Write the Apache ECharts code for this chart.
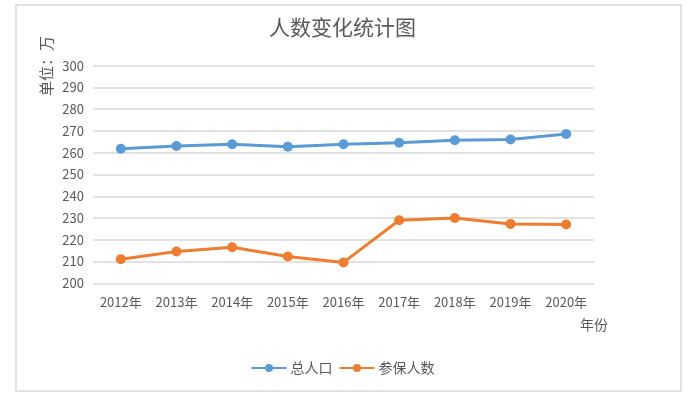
<!DOCTYPE html>
<html>
<head>
<meta charset="utf-8">
<script src="https://cdn.jsdelivr.net/npm/echarts@6/dist/echarts.min.js"></script>
<style>html,body{margin:0;padding:0;background:#fff}#c{width:685px;height:395px}</style>
</head>
<body>
<div id="c"></div>
<script>
const categories = ['2012年','2013年','2014年','2015年','2016年','2017年','2018年','2019年','2020年'];
const totalPop = [261.8, 263.1, 263.9, 262.8, 263.9, 264.6, 265.7, 266.1, 268.6];
const insured = [211.1, 214.6, 216.6, 212.3, 209.6, 229.0, 230.0, 227.3, 227.0];
const seriesNames = ['总人口', '参保人数'];
const titleText = '人数变化统计图';
const unitText = '单位：万';
const xName = '年份';

const FONT = '"Noto Sans CJK SC", "Noto Sans", sans-serif';
const chart = echarts.init(document.getElementById('c'), null, {renderer: 'canvas'});
chart.setOption({
  animation: false,
  backgroundColor: '#fff',
  textStyle: {fontFamily: FONT},
  title: {
    text: titleText, left: 'center', top: 12,
    textStyle: {color: '#595959', fontSize: 21, fontWeight: 'normal', fontFamily: FONT}
  },
  graphic: [
    {type: 'rect', shape: {x: 16, y: 5, width: 665, height: 386},
     style: {fill: 'none', stroke: '#d9d9d9', lineWidth: 1.5}, z: -1},
    {type: 'text', x: 46, y: 66, rotation: Math.PI / 2,
     style: {text: unitText, fill: '#595959', font: '15px ' + FONT, align: 'center', verticalAlign: 'middle'}}
  ],
  legend: {
    bottom: 15, left: 'center', itemWidth: 35, itemHeight: 10, itemGap: 6,
    data: seriesNames,
    textStyle: {color: '#595959', fontSize: 14, fontFamily: FONT, padding: [0, 0, 0, -1]}
  },
  grid: {left: 93, right: 91, top: 65.7, bottom: 111.7, containLabel: false},
  xAxis: {
    type: 'category', data: categories, boundaryGap: true,
    name: xName, nameLocation: 'end', nameGap: 0,
    nameTextStyle: {color: '#595959', fontSize: 14, fontFamily: FONT, align: 'center', verticalAlign: 'top', padding: [34, 0, 0, 0]},
    axisLine: {show: false}, axisTick: {show: false},
    axisLabel: {color: '#595959', fontSize: 13, margin: 12, fontFamily: FONT}
  },
  yAxis: {
    type: 'value', min: 200, max: 300, interval: 10,
    axisLine: {show: false}, axisTick: {show: false},
    axisLabel: {color: '#595959', fontSize: 13, margin: 9, fontFamily: FONT},
    splitLine: {lineStyle: {color: '#d9d9d9', width: 1.5}}
  },
  series: [
    {name: seriesNames[0], type: 'line', data: totalPop, symbol: 'circle', symbolSize: 10,
     itemStyle: {color: '#5b9bd5'}, lineStyle: {color: '#5b9bd5', width: 3}},
    {name: seriesNames[1], type: 'line', data: insured, symbol: 'circle', symbolSize: 10,
     itemStyle: {color: '#ed7d31'}, lineStyle: {color: '#ed7d31', width: 3}}
  ]
});
</script>
</body>
</html>
